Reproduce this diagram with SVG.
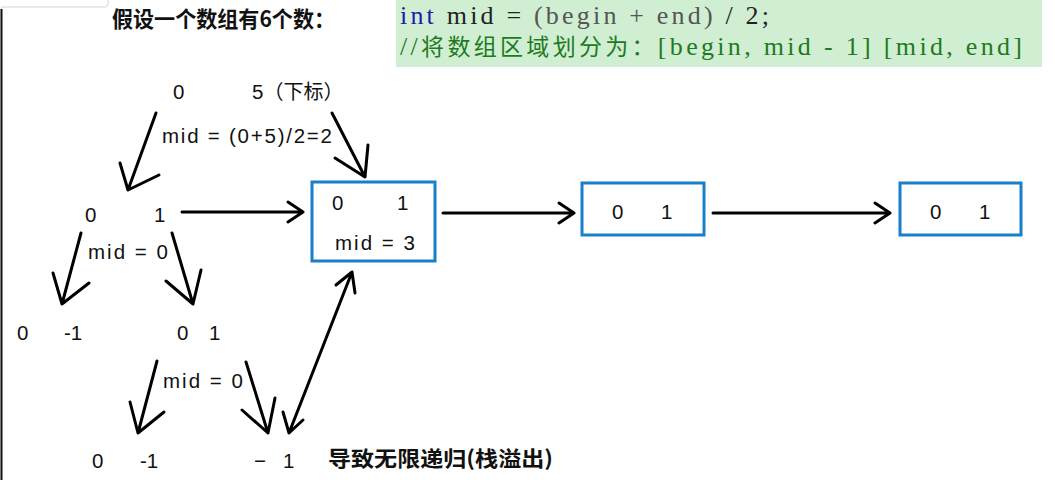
<svg xmlns="http://www.w3.org/2000/svg" width="1055" height="480" viewBox="0 0 1055 480">
  <style>
    .t { font-family: "Liberation Sans", Arial, sans-serif; font-size: 20.5px; fill: #111; }
    .cjk { font-family: "Noto Sans CJK SC", "Liberation Sans", sans-serif; fill: #111; }
    .code { font-family: "Liberation Serif", "Noto Sans CJK SC", serif; font-size: 26px; }
    .box { fill: #fff; stroke: #1a7fcb; stroke-width: 3; }
    .arr { fill: none; stroke: #000; stroke-width: 3; stroke-linecap: round; stroke-linejoin: round; }
  </style>
  <rect x="0" y="0" width="1055" height="480" fill="#fff"/>
  <path d="M1 480 V10 Q1 7 4 7 H104 Q108 7 108 3 V0" fill="none" stroke="#e4e4e4" stroke-width="1.5"/>
  <line x1="1.5" y1="9" x2="1.5" y2="480" stroke="#111" stroke-width="2"/>

  <g id="title">
    <text class="cjk" x="112" y="27" font-size="22" font-weight="bold" textLength="223" lengthAdjust="spacingAndGlyphs">假设一个数组有6个数：</text>
  </g>

  <g id="code">
    <rect x="396" y="0" width="646" height="67" fill="#d0eed2"/>
    <text class="code" x="400" y="24" textLength="369" lengthAdjust="spacing"><tspan fill="#1c1ca8">int</tspan><tspan fill="#222"> mid = </tspan><tspan fill="#555">(begin + end)</tspan><tspan fill="#222"> / 2;</tspan></text>
    <text class="code" x="400" y="55" fill="#1f7a1f" textLength="622" lengthAdjust="spacing">//<tspan font-size="23">将数组区域划分为：</tspan>[begin, mid - 1] [mid, end]</text>
  </g>

  <g id="node-root">
    <text class="t" x="173" y="99">0</text>
    <text class="t" x="252" y="99">5<tspan class="cjk" font-size="20">（下标）</tspan></text>
    <text class="t" x="162" y="143" textLength="170" lengthAdjust="spacing">mid = (0+5)/2=2</text>
  </g>

  <g id="node-01">
    <text class="t" x="85" y="222">0</text>
    <text class="t" x="154" y="222">1</text>
    <text class="t" x="88" y="259" textLength="80" lengthAdjust="spacing">mid = 0</text>
  </g>

  <g id="box1">
    <rect class="box" x="312" y="182" width="123" height="79"/>
    <text class="t" x="332" y="210">0</text>
    <text class="t" x="397" y="210">1</text>
    <text class="t" x="335" y="250" textLength="80" lengthAdjust="spacing">mid = 3</text>
  </g>

  <g id="box2">
    <rect class="box" x="582" y="183" width="122" height="52"/>
    <text class="t" x="612" y="219">0</text>
    <text class="t" x="661" y="219">1</text>
  </g>

  <g id="box3">
    <rect class="box" x="900" y="183" width="121" height="52"/>
    <text class="t" x="930" y="219">0</text>
    <text class="t" x="979" y="219">1</text>
  </g>

  <g id="node-0-m1">
    <text class="t" x="17" y="340">0</text>
    <text class="t" x="64" y="340">-1</text>
  </g>

  <g id="node-0-1">
    <text class="t" x="177" y="340">0</text>
    <text class="t" x="209" y="340">1</text>
    <text class="t" x="163" y="388" textLength="80" lengthAdjust="spacing">mid = 0</text>
  </g>

  <g id="node-leaf-left">
    <text class="t" x="92" y="468">0</text>
    <text class="t" x="140" y="468">-1</text>
  </g>

  <g id="node-leaf-right">
    <text class="t" x="254" y="468">−</text>
    <text class="t" x="283" y="468">1</text>
  </g>

  <g id="note">
    <text class="cjk" x="328" y="466" font-size="21" font-weight="bold" textLength="225" lengthAdjust="spacingAndGlyphs">导致无限递归(栈溢出)</text>
  </g>

  <g id="connectors">
    <path class="arr" d="M156 113 L128 190 M120 163 L128 190 L159 175"/>
    <path class="arr" d="M332 113 L365 177 M335 158 L365 177 L368 145"/>
    <path class="arr" d="M182 212 L303 212 M288 202 L303 212 L288 222"/>
    <path class="arr" d="M443 213 L574 213 M559 203 L574 213 L559 223"/>
    <path class="arr" d="M713 213 L890 213 M875 203 L890 213 L875 223"/>
    <path class="arr" d="M81 233 L62 304 M53 273 L62 304 L89 283"/>
    <path class="arr" d="M172 233 L193 304 M166 281 L193 304 L201 270"/>
    <path class="arr" d="M157 361 L138 433 M130 402 L138 433 L164 412"/>
    <path class="arr" d="M246 362 L268 433 M242 410 L268 433 L275 398"/>
    <path class="arr" d="M289 433 L352 272 M336 285 L352 272 L355 293 M283 412 L289 433 L303 420"/>
  </g>
</svg>
